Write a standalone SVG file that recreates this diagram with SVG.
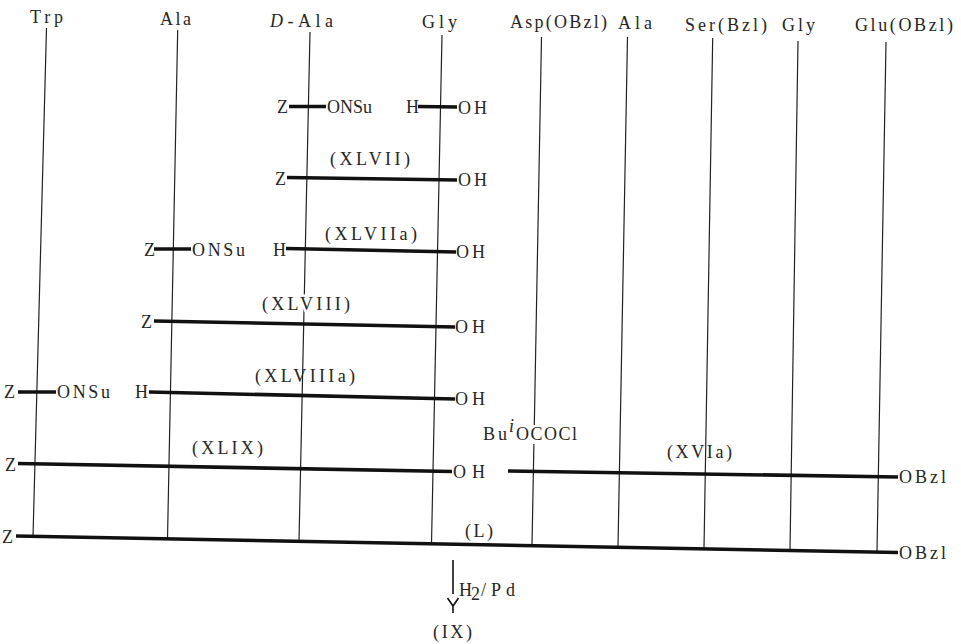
<svg xmlns="http://www.w3.org/2000/svg" width="961" height="644" viewBox="0 0 961 644">
<style>
text{font-family:"Liberation Serif","DejaVu Serif",serif;font-size:18px;fill:#262626}
.col{stroke:#222;stroke-width:1.2;fill:none}
.bar{stroke:#111;stroke-width:3.6;fill:none;stroke-linecap:butt}
.ko{stroke:#fff;stroke-width:5;paint-order:stroke;stroke-linejoin:round}
.arr{stroke:#111;stroke-width:1.6;fill:none}
</style>
<rect width="961" height="644" fill="#fff"/>
<g id="columns">
  <g id="col-trp"><line class="col" x1="46.5" y1="28" x2="33" y2="537"/><text x="30" y="23" textLength="33" lengthAdjust="spacing">Trp</text></g>
  <g id="col-ala1"><line class="col" x1="177.7" y1="30" x2="167.5" y2="539"/><text x="160" y="25" textLength="31" lengthAdjust="spacing">Ala</text></g>
  <g id="col-dala"><line class="col" x1="310" y1="32" x2="299" y2="541.5"/><text x="270" y="27" textLength="63" lengthAdjust="spacing"><tspan font-style="italic">D</tspan>-Ala</text></g>
  <g id="col-gly1"><line class="col" x1="442" y1="35" x2="431.5" y2="544"/><text x="422" y="28" textLength="35" lengthAdjust="spacing">Gly</text></g>
  <g id="col-asp"><line class="col" x1="541.5" y1="37" x2="534.3" y2="425"/><line class="col" x1="533.9" y1="444" x2="532" y2="545.5"/><text x="510" y="28" textLength="97" lengthAdjust="spacing">Asp(OBzl)</text></g>
  <g id="col-ala2"><line class="col" x1="627.5" y1="37" x2="618" y2="547"/><text x="618" y="29" textLength="34" lengthAdjust="spacing">Ala</text></g>
  <g id="col-ser"><line class="col" x1="712.7" y1="38" x2="704" y2="548.5"/><text x="685" y="31" textLength="82" lengthAdjust="spacing">Ser(Bzl)</text></g>
  <g id="col-gly2"><line class="col" x1="798" y1="41" x2="790" y2="550"/><text x="782" y="31" textLength="33" lengthAdjust="spacing">Gly</text></g>
  <g id="col-glu"><line class="col" x1="886" y1="42" x2="877" y2="551.5"/><text x="855" y="31" textLength="98" lengthAdjust="spacing">Glu(OBzl)</text></g>
</g>
<g id="row1">
  <line class="bar" x1="289" y1="106.5" x2="326" y2="106.5"/>
  <line class="bar" x1="418" y1="106.5" x2="457" y2="107"/>
  <text x="277" y="113">Z</text>
  <text x="327" y="113" textLength="45" lengthAdjust="spacing">ONSu</text>
  <text x="406" y="113">H</text>
  <text x="458" y="113.5" textLength="29" lengthAdjust="spacing">OH</text>
</g>
<g id="XLVII">
  <line class="bar" x1="287" y1="177.5" x2="457" y2="180"/>
  <text x="330" y="165" textLength="80" lengthAdjust="spacing">(XLVII)</text>
  <text x="275" y="185">Z</text>
  <text x="458" y="186" textLength="29" lengthAdjust="spacing">OH</text>
</g>
<g id="XLVIIa">
  <line class="bar" x1="154" y1="249" x2="191" y2="249"/>
  <line class="bar" x1="286" y1="248.5" x2="456" y2="252"/>
  <text x="325" y="240" textLength="92" lengthAdjust="spacing">(XLVIIa)</text>
  <text x="144" y="256">Z</text>
  <text x="192" y="256" textLength="53" lengthAdjust="spacing">ONSu</text>
  <text x="273" y="256">H</text>
  <text x="456" y="258" textLength="29" lengthAdjust="spacing">OH</text>
</g>
<g id="XLVIII">
  <line class="bar" x1="154" y1="321" x2="455" y2="327"/>
  <text class="ko" x="262" y="310" textLength="88" lengthAdjust="spacing">(XLVIII)</text>
  <text x="141" y="327.5">Z</text>
  <text x="455" y="333" textLength="30" lengthAdjust="spacing">OH</text>
</g>
<g id="XLVIIIa">
  <line class="bar" x1="18" y1="392" x2="56" y2="392"/>
  <line class="bar" x1="149" y1="392" x2="455" y2="399"/>
  <text x="255" y="382" textLength="100" lengthAdjust="spacing">(XLVIIIa)</text>
  <text x="4" y="398">Z</text>
  <text x="57" y="398" textLength="53" lengthAdjust="spacing">ONSu</text>
  <text x="135" y="398">H</text>
  <text x="455" y="405" textLength="30" lengthAdjust="spacing">OH</text>
</g>
<g id="XLIX">
  <line class="bar" x1="18" y1="463.5" x2="452" y2="471.5"/>
  <text x="192" y="454" textLength="71" lengthAdjust="spacing">(XLIX)</text>
  <text x="5" y="471">Z</text>
  <text x="453" y="478" textLength="32" lengthAdjust="spacing">OH</text>
</g>
<g id="reagent">
  <text x="483" y="439.5" textLength="24" lengthAdjust="spacing">Bu</text>
  <text x="509" y="432" font-style="italic" font-size="13">i</text>
  <text x="516" y="440" textLength="61" lengthAdjust="spacing">OCOCl</text>
</g>
<g id="XVIa">
  <line class="bar" x1="508" y1="471" x2="898" y2="477"/>
  <text x="667" y="458" textLength="65" lengthAdjust="spacing">(XVIa)</text>
  <text x="899" y="483" textLength="47" lengthAdjust="spacing">OBzl</text>
</g>
<g id="L">
  <line class="bar" x1="16" y1="536" x2="898" y2="552.5"/>
  <text x="465" y="537" textLength="28" lengthAdjust="spacing">(L)</text>
  <text x="2" y="543">Z</text>
  <text x="899" y="559" textLength="47" lengthAdjust="spacing">OBzl</text>
</g>
<g id="connectors">
  <line class="arr" x1="453" y1="560" x2="453" y2="594"/>
  <path class="arr" d="M447.5,598 L453,606 L458.5,598 M453,606 L453,613" stroke-width="2"/>
  <text x="459" y="595.5" font-size="15">H</text>
  <text x="471" y="599.5" font-size="11">2</text>
  <text x="481" y="595.5" font-size="15" textLength="34" lengthAdjust="spacing">/Pd</text>
</g>
<g id="IX">
  <text x="433" y="638" textLength="39" lengthAdjust="spacing">(IX)</text>
</g>
</svg>
